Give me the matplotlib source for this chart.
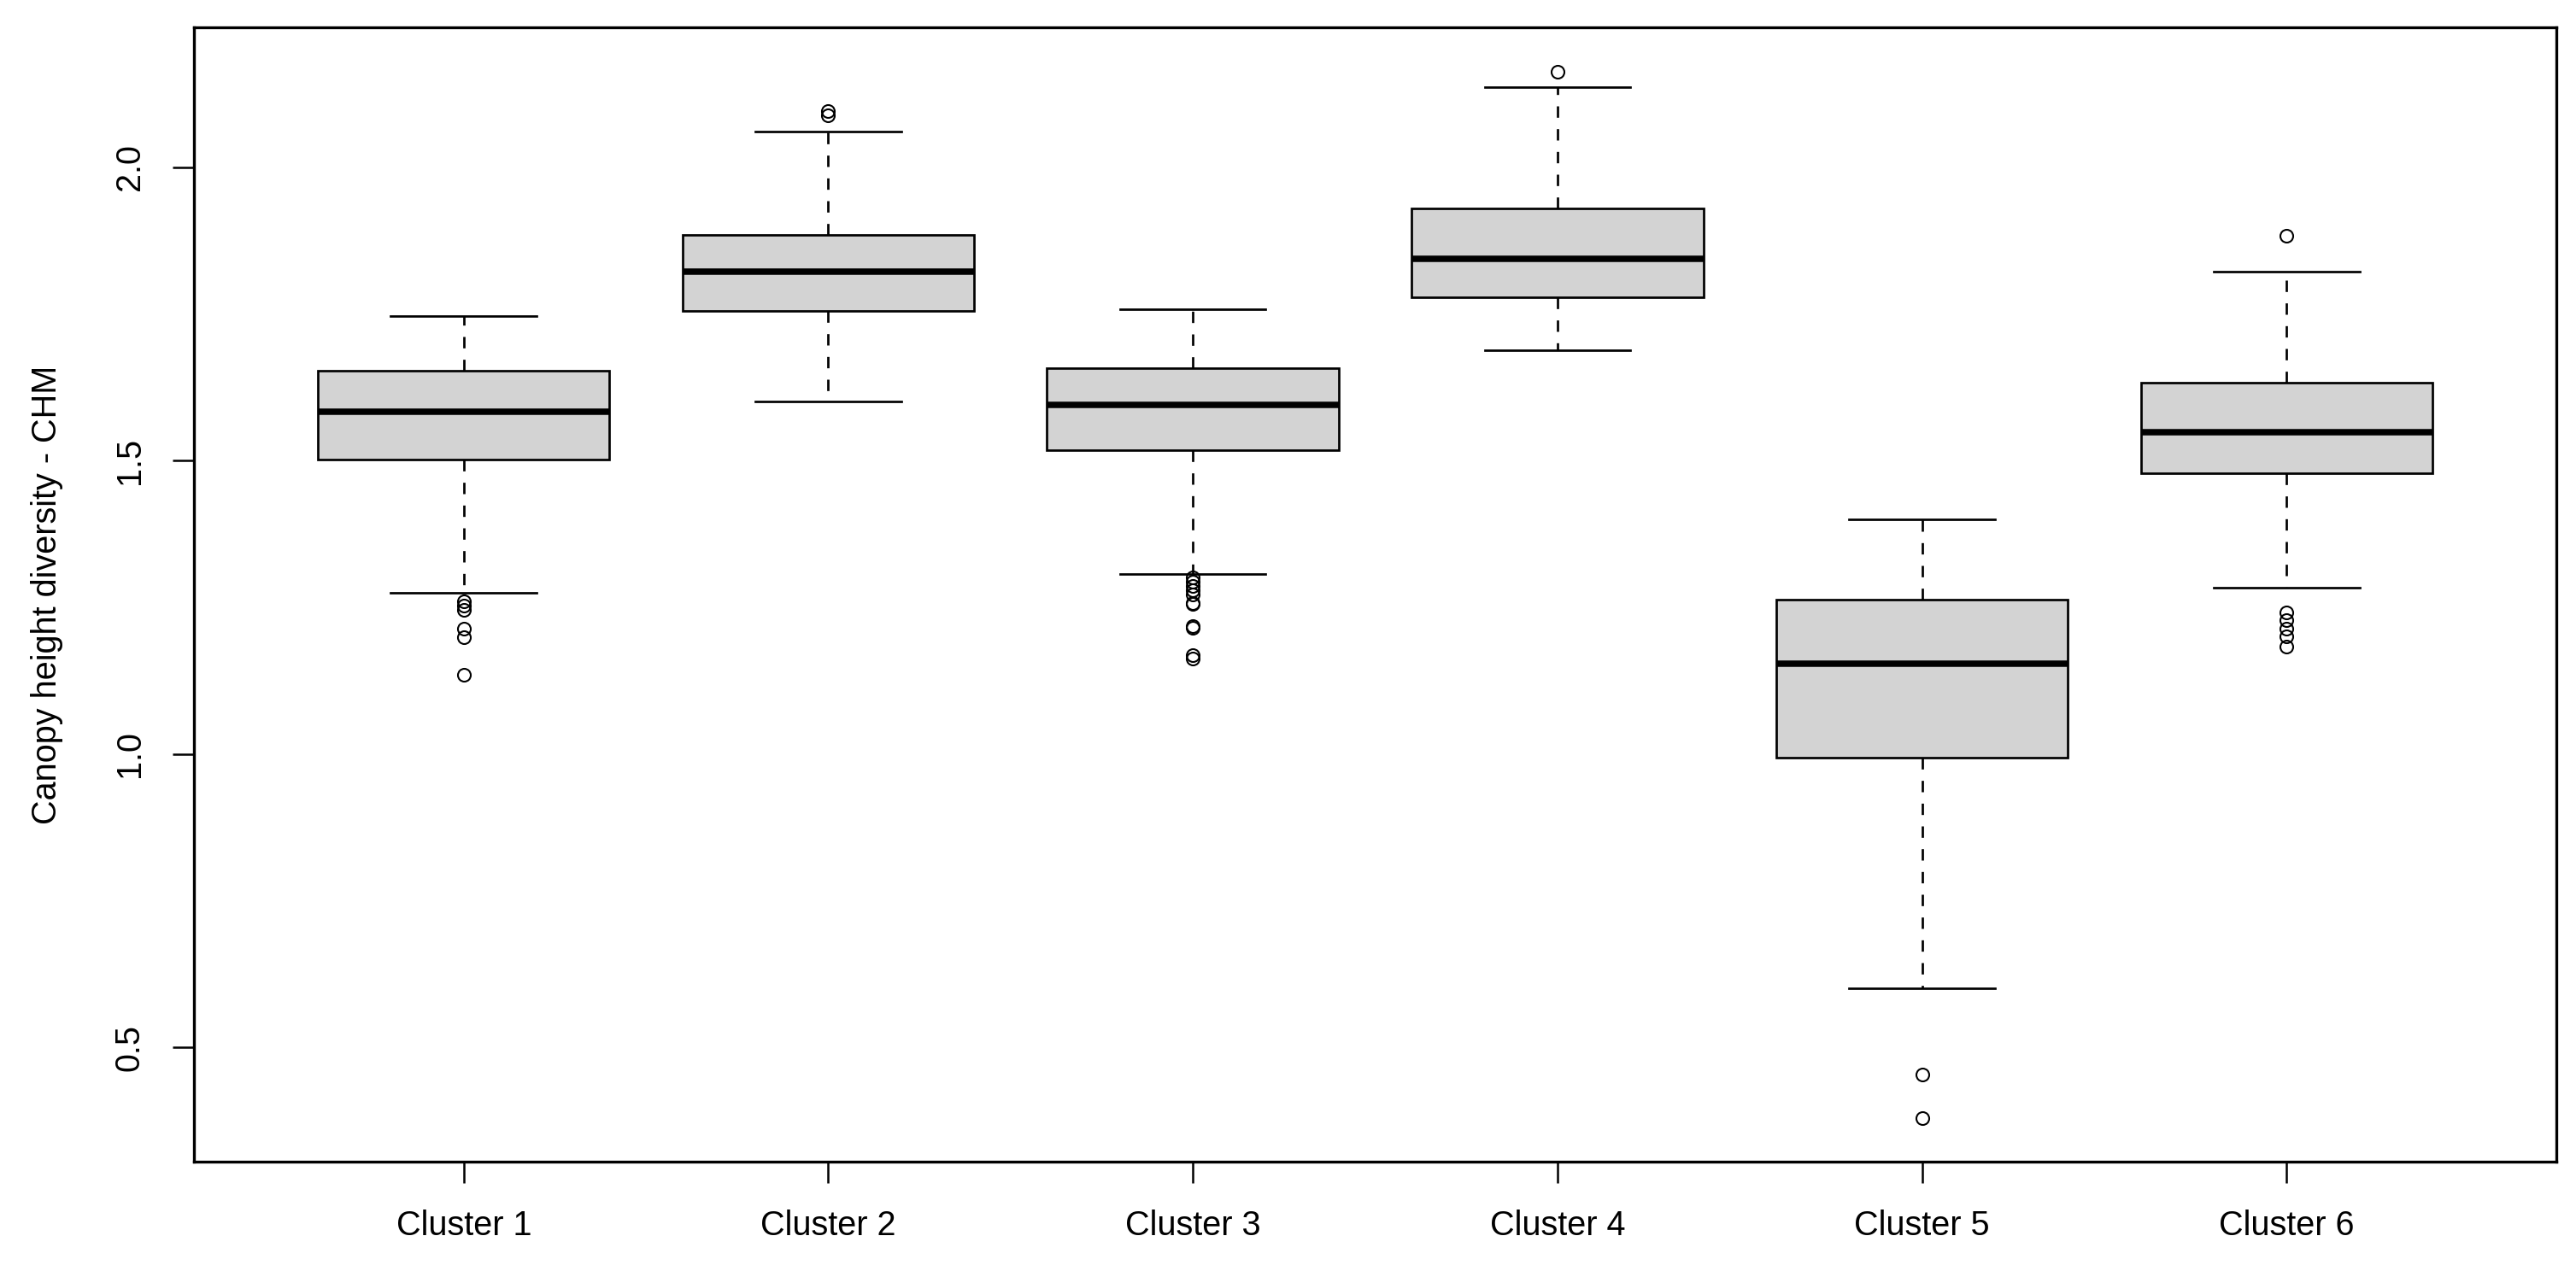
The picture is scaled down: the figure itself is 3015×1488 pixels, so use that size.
import matplotlib
matplotlib.use("Agg")
import matplotlib.pyplot as plt

plt.rcParams['font.family'] = ['Liberation Sans', 'DejaVu Sans']
plt.rcParams['lines.scale_dashes'] = False

categories = ["Cluster 1", "Cluster 2", "Cluster 3", "Cluster 4", "Cluster 5", "Cluster 6"]
whisker_low = [1.275, 1.601, 1.306, 1.688, 0.600, 1.283]
q1 = [1.501, 1.755, 1.517, 1.778, 0.994, 1.478]
medians = [1.583, 1.821, 1.595, 1.844, 1.154, 1.548]
q3 = [1.653, 1.884, 1.657, 1.930, 1.263, 1.633]
whisker_high = [1.746, 2.061, 1.758, 2.136, 1.399, 1.821]
outliers = [
    [1.260, 1.252, 1.245, 1.213, 1.199, 1.135],
    [2.095, 2.088],
    [1.300, 1.293, 1.286, 1.279, 1.272, 1.257, 1.255, 1.218, 1.215, 1.168, 1.163],
    [2.163],
    [0.453, 0.379],
    [1.883, 1.241, 1.228, 1.214, 1.200, 1.183],
]
y_ticks = [0.5, 1.0, 1.5, 2.0]
y_label = "Canopy height diversity - CHM"

stats = []
for i, name in enumerate(categories):
    stats.append(dict(label=name, whislo=whisker_low[i], q1=q1[i], med=medians[i],
                      q3=q3[i], whishi=whisker_high[i], fliers=outliers[i]))

fig = plt.figure(figsize=(3015 / 300, 1488 / 300), dpi=300)
ax = fig.add_axes([227 / 3015, 1 - 1360 / 1488, (2992 - 227) / 3015, (1360 - 32) / 1488])

lw = 0.65
ax.bxp(stats, positions=range(1, len(categories) + 1), widths=0.8, patch_artist=True,
       boxprops=dict(facecolor='#D3D3D3', edgecolor='black', linewidth=lw),
       medianprops=dict(color='black', linewidth=1.8, solid_capstyle='butt'),
       whiskerprops=dict(color='black', linewidth=lw, linestyle=(0, (3.2, 3.2))),
       capprops=dict(color='black', linewidth=lw),
       flierprops=dict(marker='o', markerfacecolor='none', markeredgecolor='black',
                       markersize=3.6, markeredgewidth=0.5, linestyle='none'),
       capwidths=0.4)

ax.set_xlim(0.26, 6.74)
ax.set_ylim(0.305, 2.238)
ax.set_yticks(y_ticks)
ax.set_yticklabels([f"{t:.1f}" for t in y_ticks], rotation=90, va='center')
ax.set_xticks(range(1, len(categories) + 1))
ax.set_xticklabels(categories)
ax.tick_params(axis='both', length=6, width=0.6, labelsize=9.5, pad=7.5, direction='out')
for s in ax.spines.values():
    s.set_linewidth(0.8)

ax.set_ylabel(y_label, fontsize=9.5)
ax.yaxis.set_label_coords(-0.0555, 0.5)

fig.savefig("out.png", dpi=300, facecolor='white')
